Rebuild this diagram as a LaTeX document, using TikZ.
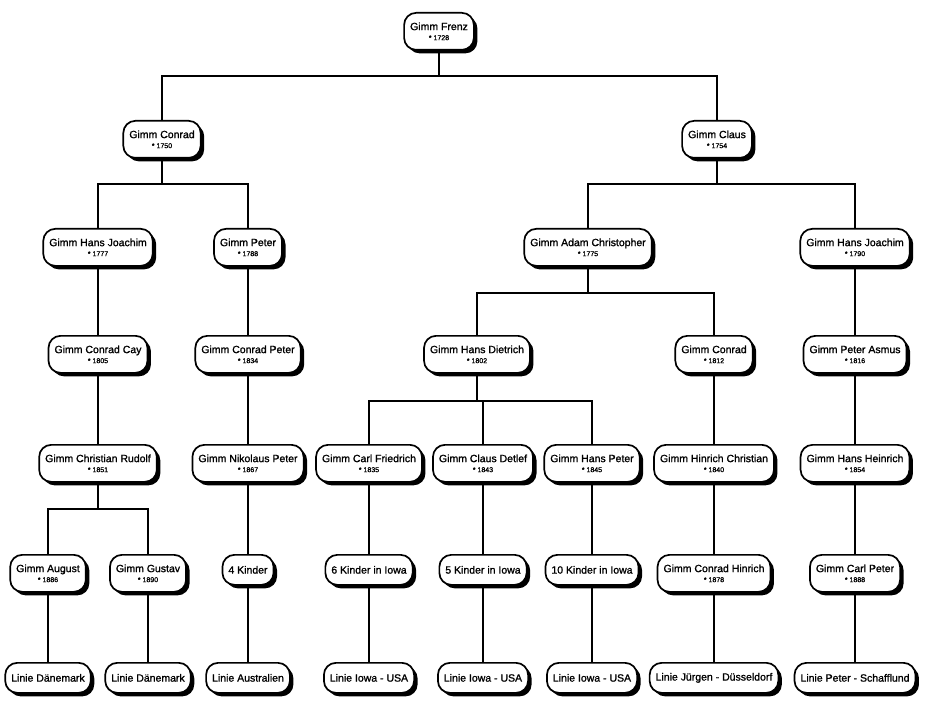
\documentclass[tikz,border=0pt]{standalone}
\usepackage{fontspec}
\setmainfont{Liberation Sans}[UprightFeatures={FakeBold=1.2}]
\usetikzlibrary{shadows}
\newcommand{\born}[1]{\\[-1pt]{\fontsize{7}{8}\selectfont * #1}}

\begin{document}
\begin{tikzpicture}[x=1pt,y=-1pt,
    box/.style={draw,fill=white,line width=1.7pt,rounded corners=12pt,anchor=north,inner xsep=6pt,inner ysep=2pt,align=center,font=\fontsize{10.5}{11}\selectfont,drop shadow={fill=black,opacity=1,shadow xshift=3.5pt,shadow yshift=-3.5pt}},
    person/.style={box,minimum height=37pt},
    leaf/.style={box,minimum height=30pt},
    link/.style={line width=2pt}]
    \useasboundingbox (0,0) rectangle (925,703);
    % generations, top edge of each row
    \node[person] (frenz) at (439,12) {Gimm Frenz\born{1728}};
    \node[person] (conrad) at (162,120) {Gimm Conrad\born{1750}};
    \node[person] (claus) at (717,120) {Gimm Claus\born{1754}};
    \node[person] (joachim) at (98,228) {Gimm Hans Joachim\born{1777}};
    \node[person] (peter) at (248,228) {Gimm Peter\born{1788}};
    \node[person] (adam) at (588,228) {Gimm Adam Christopher\born{1775}};
    \node[person] (joachimb) at (855,228) {Gimm Hans Joachim\born{1790}};
    \node[person] (cay) at (98,335) {Gimm Conrad Cay\born{1805}};
    \node[person] (cpeter) at (248,335) {Gimm Conrad Peter\born{1834}};
    \node[person] (dietrich) at (477,335) {Gimm Hans Dietrich\born{1802}};
    \node[person] (conradb) at (714,335) {Gimm Conrad\born{1812}};
    \node[person] (asmus) at (855,335) {Gimm Peter Asmus\born{1816}};
    \node[person] (rudolf) at (98,444) {Gimm Christian Rudolf\born{1851}};
    \node[person] (nikolaus) at (248,444) {Gimm Nikolaus Peter\born{1867}};
    \node[person] (friedrich) at (369,444) {Gimm Carl Friedrich\born{1835}};
    \node[person] (detlef) at (483,444) {Gimm Claus Detlef\born{1843}};
    \node[person] (hpeter) at (592,444) {Gimm Hans Peter\born{1845}};
    \node[person] (hinrich) at (714,444) {Gimm Hinrich Christian\born{1840}};
    \node[person] (heinrich) at (855,444) {Gimm Hans Heinrich\born{1854}};
    \node[person] (august) at (48,554) {Gimm August\born{1886}};
    \node[person] (gustav) at (148,554) {Gimm Gustav\born{1890}};
    \node[leaf] (kindera) at (248,554) {4 Kinder};
    \node[leaf] (kinderb) at (369,554) {6 Kinder in Iowa};
    \node[leaf] (kinderc) at (483,554) {5 Kinder in Iowa};
    \node[leaf] (kinderd) at (592,554) {10 Kinder in Iowa};
    \node[person] (chinrich) at (714,554) {Gimm Conrad Hinrich\born{1878}};
    \node[person] (cpeterb) at (855,554) {Gimm Carl Peter\born{1888}};
    % lines
    \node[leaf] (liniea) at (48,662) {Linie Dänemark};
    \node[leaf] (linieb) at (148,662) {Linie Dänemark};
    \node[leaf] (liniec) at (248,662) {Linie Australien};
    \node[leaf] (linied) at (369,662) {Linie Iowa - USA};
    \node[leaf] (liniee) at (483,662) {Linie Iowa - USA};
    \node[leaf] (linief) at (592,662) {Linie Iowa - USA};
    \node[leaf] (linieg) at (714,662) {Linie Jürgen - Düsseldorf};
    \node[leaf] (linieh) at (855,662) {Linie Peter - Schafflund};
    % forks
    \draw[link] (frenz.south) -- ++(0,25) -| (conrad.north);
    \draw[link] (frenz.south) -- ++(0,25) -| (claus.north);
    \draw[link] (conrad.south) -- ++(0,25) -| (joachim.north);
    \draw[link] (conrad.south) -- ++(0,25) -| (peter.north);
    \draw[link] (claus.south) -- ++(0,25) -| (adam.north);
    \draw[link] (claus.south) -- ++(0,25) -| (joachimb.north);
    \draw[link] (adam.south) -- ++(0,26) -| (dietrich.north);
    \draw[link] (adam.south) -- ++(0,26) -| (conradb.north);
    \draw[link] (dietrich.south) -- ++(0,27) -| (friedrich.north);
    \draw[link] (dietrich.south) -- ++(0,27) -| (detlef.north);
    \draw[link] (dietrich.south) -- ++(0,27) -| (hpeter.north);
    \draw[link] (rudolf.south) -- ++(0,26) -| (august.north);
    \draw[link] (rudolf.south) -- ++(0,26) -| (gustav.north);
    % straight lines
    \draw[link] (joachim.south) -- (cay.north);
    \draw[link] (cay.south) -- (rudolf.north);
    \draw[link] (peter.south) -- (cpeter.north);
    \draw[link] (cpeter.south) -- (nikolaus.north);
    \draw[link] (nikolaus.south) -- (kindera.north);
    \draw[link] (conradb.south) -- (hinrich.north);
    \draw[link] (hinrich.south) -- (chinrich.north);
    \draw[link] (joachimb.south) -- (asmus.north);
    \draw[link] (asmus.south) -- (heinrich.north);
    \draw[link] (heinrich.south) -- (cpeterb.north);
    \draw[link] (friedrich.south) -- (kinderb.north);
    \draw[link] (detlef.south) -- (kinderc.north);
    \draw[link] (hpeter.south) -- (kinderd.north);
    \draw[link] (august.south) -- (liniea.north);
    \draw[link] (gustav.south) -- (linieb.north);
    \draw[link] (kindera.south) -- (liniec.north);
    \draw[link] (kinderb.south) -- (linied.north);
    \draw[link] (kinderc.south) -- (liniee.north);
    \draw[link] (kinderd.south) -- (linief.north);
    \draw[link] (chinrich.south) -- (linieg.north);
    \draw[link] (cpeterb.south) -- (linieh.north);
\end{tikzpicture}
\end{document}
